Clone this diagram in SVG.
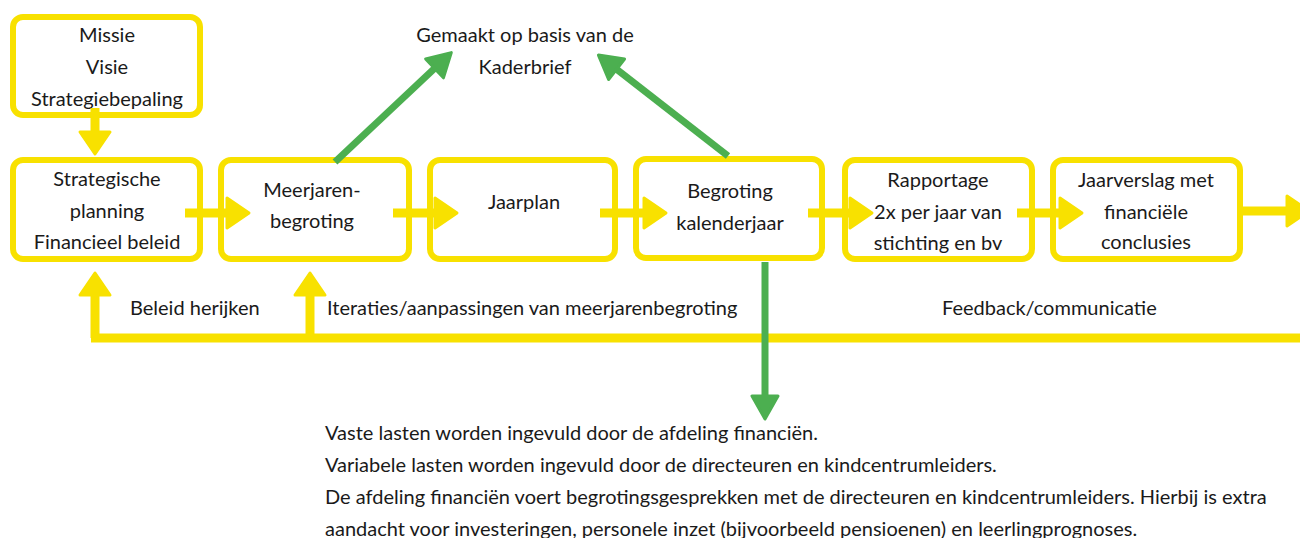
<svg xmlns="http://www.w3.org/2000/svg" width="1300" height="538" viewBox="0 0 1300 538">
<style>
.box{fill:#fff;stroke:#F8E100;stroke-width:6}
.t{font-family:Lato,"Open Sans","Liberation Sans",sans-serif;font-size:20px;fill:#1a1a1a;text-anchor:middle}
.l{text-anchor:start}
.y{stroke:#F8E100;stroke-width:9;fill:none}
.g{stroke:#4CAF50;stroke-width:7;fill:none}
</style>
<defs>
<marker id="ay" markerUnits="userSpaceOnUse" markerWidth="30" markerHeight="36" viewBox="-3 -3 30 36" refX="2" refY="15" orient="auto">
<path d="M0,0 L22,15 L0,30 z" fill="#F8E100" stroke="#F8E100" stroke-width="3" stroke-linejoin="round"/>
</marker>
<marker id="ag" markerUnits="userSpaceOnUse" markerWidth="30" markerHeight="32" viewBox="-3 -3 30 32" refX="2" refY="13" orient="auto">
<path d="M0,0 L23,13 L0,26 z" fill="#4CAF50" stroke="#4CAF50" stroke-width="3" stroke-linejoin="round"/>
</marker>
</defs>
<rect width="1300" height="538" fill="#fff"/>
<g id="missie">
<rect class="box" x="13" y="17" width="187" height="98" rx="10"/>
<text class="t" x="107" y="42">Missie</text>
<text class="t" x="107" y="74">Visie</text>
<text class="t" x="107" y="106">Strategiebepaling</text>
</g>
<g id="strategische-planning">
<rect class="box" x="13" y="160" width="187" height="99" rx="10"/>
<text class="t" x="107" y="186">Strategische</text>
<text class="t" x="107" y="218">planning</text>
<text class="t" x="107" y="249">Financieel beleid</text>
</g>
<g id="meerjarenbegroting">
<rect class="box" x="221" y="160" width="188" height="99" rx="10"/>
<text class="t" x="312" y="197">Meerjaren-</text>
<text class="t" x="312" y="228">begroting</text>
</g>
<g id="jaarplan">
<rect class="box" x="430" y="160" width="185" height="99" rx="10"/>
<text class="t" x="524" y="209">Jaarplan</text>
</g>
<g id="begroting">
<rect class="box" x="636" y="159" width="186" height="99" rx="10"/>
<text class="t" x="730" y="198">Begroting</text>
<text class="t" x="730" y="230">kalenderjaar</text>
</g>
<g id="rapportage">
<rect class="box" x="845" y="160" width="187" height="99" rx="10"/>
<text class="t" x="938" y="187">Rapportage</text>
<text class="t" x="938" y="219">2x per jaar van</text>
<text class="t" x="938" y="250">stichting en bv</text>
</g>
<g id="jaarverslag">
<rect class="box" x="1053" y="160" width="187" height="99" rx="10"/>
<text class="t" x="1146" y="187">Jaarverslag met</text>
<text class="t" x="1146" y="219">financiële</text>
<text class="t" x="1146" y="249">conclusies</text>
</g>
<g id="kaderbrief">
<text class="t" x="525" y="42">Gemaakt op basis van de</text>
<text class="t" x="525" y="74">Kaderbrief</text>
</g>
<g id="connectors">
<line class="y" x1="95" y1="108" x2="95" y2="134" marker-end="url(#ay)"/>
<line class="y" x1="185" y1="213" x2="229" y2="213" marker-end="url(#ay)"/>
<line class="y" x1="393" y1="213" x2="437" y2="213" marker-end="url(#ay)"/>
<line class="y" x1="600" y1="213" x2="646" y2="213" marker-end="url(#ay)"/>
<line class="y" x1="808" y1="213" x2="852" y2="213" marker-end="url(#ay)"/>
<line class="y" x1="1017" y1="213" x2="1062" y2="213" marker-end="url(#ay)"/>
<line class="y" x1="1243" y1="211" x2="1289" y2="211" marker-end="url(#ay)"/>
<line class="y" x1="91" y1="338" x2="1300" y2="338" stroke-width="8"/>
<line class="y" x1="95" y1="338" x2="95" y2="293" stroke-width="8" marker-end="url(#ay)"/>
<line class="y" x1="310" y1="338" x2="310" y2="293" stroke-width="8" marker-end="url(#ay)"/>
<line class="g" x1="335" y1="162" x2="436" y2="67" marker-end="url(#ag)"/>
<line class="g" x1="728" y1="156" x2="615" y2="68" marker-end="url(#ag)"/>
<line class="g" x1="765" y1="262" x2="765" y2="398" marker-end="url(#ag)"/>
</g>
<g id="labels">
<text class="t l" x="130" y="315">Beleid herijken</text>
<text class="t l" x="327" y="315">Iteraties/aanpassingen van meerjarenbegroting</text>
<text class="t l" x="942" y="315">Feedback/communicatie</text>
</g>
<g id="toelichting">
<text class="t l" x="325" y="440">Vaste lasten worden ingevuld door de afdeling financiën.</text>
<text class="t l" x="325" y="472">Variabele lasten worden ingevuld door de directeuren en kindcentrumleiders.</text>
<text class="t l" x="325" y="504">De afdeling financiën voert begrotingsgesprekken met de directeuren en kindcentrumleiders. Hierbij is extra</text>
<text class="t l" x="325" y="536">aandacht voor investeringen, personele inzet (bijvoorbeeld pensioenen) en leerlingprognoses.</text>
</g>
</svg>
